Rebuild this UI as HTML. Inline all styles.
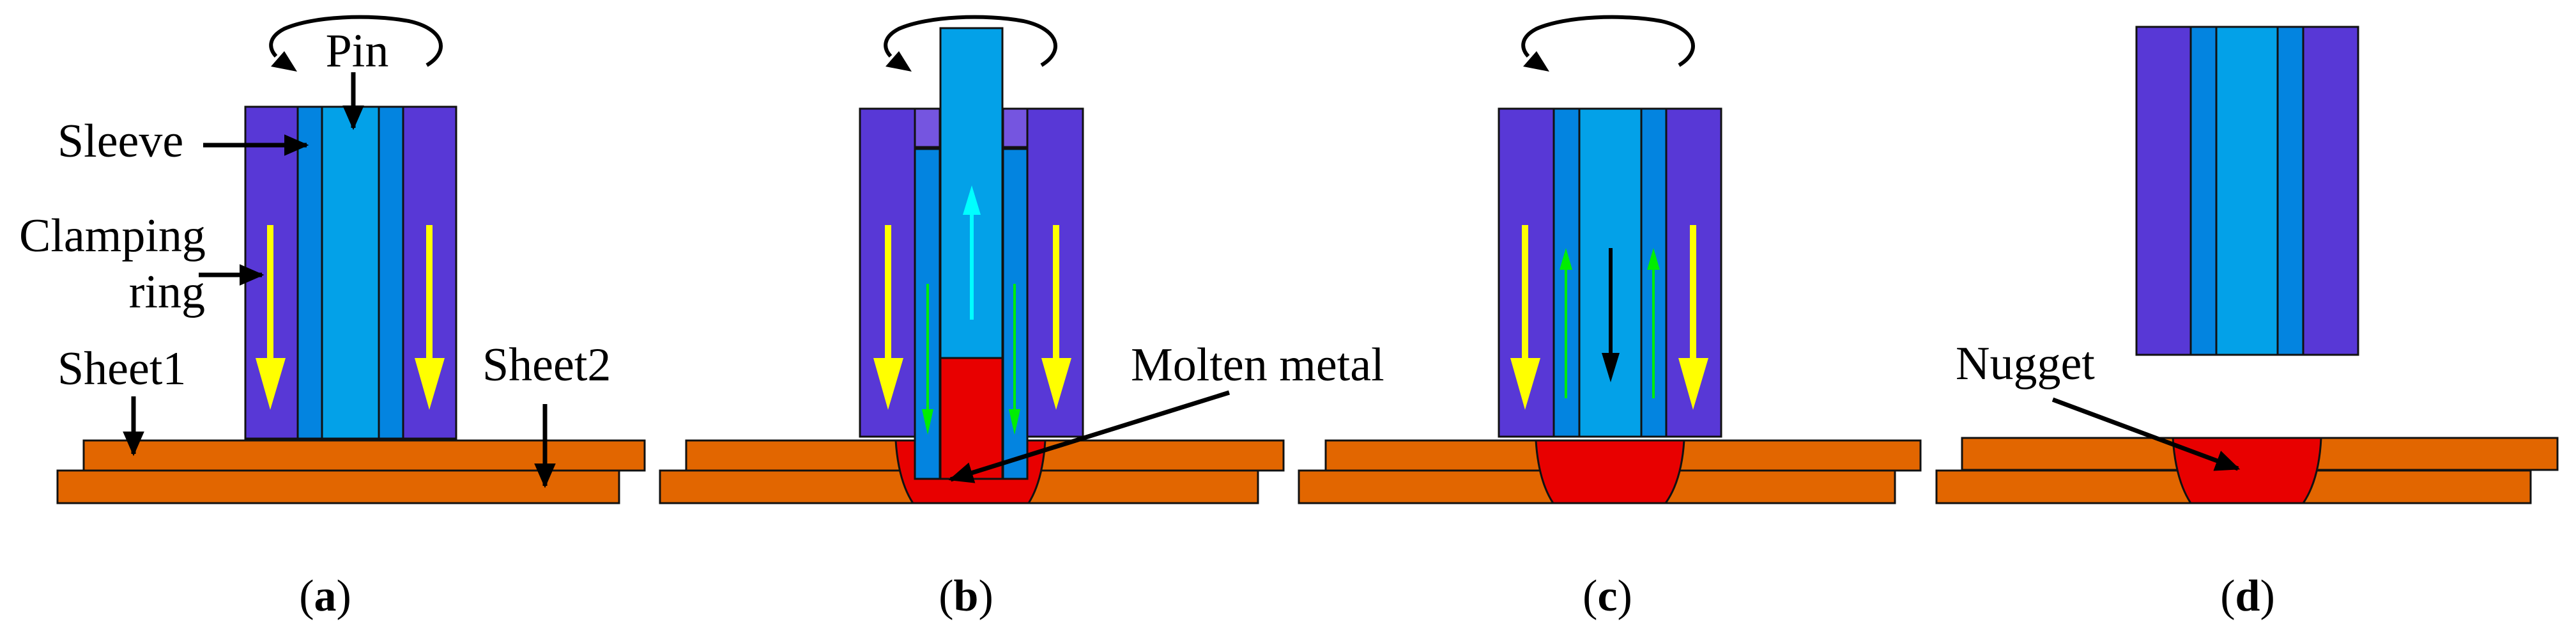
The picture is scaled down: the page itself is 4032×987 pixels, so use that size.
<!DOCTYPE html>
<html><head><meta charset="utf-8"><style>
html,body{margin:0;padding:0;background:#fff;}
svg{display:block;}
text{font-family:"Liberation Serif","DejaVu Serif",serif;fill:#000;}
</style></head><body>
<svg width="4032" height="987" viewBox="0 0 4032 987" xmlns="http://www.w3.org/2000/svg">
<defs>
<marker id="ah" markerWidth="6" markerHeight="6" refX="5" refY="3" orient="auto" markerUnits="strokeWidth"><path d="M0,0.6 L5.5,3 L0,5.4 Z" fill="#000"/></marker>
</defs>
<g stroke="#111" stroke-width="3">
<rect x="90" y="736" width="879" height="51" fill="#e26600"/>
<rect x="131" y="689" width="878" height="47" fill="#e26600"/>
<rect x="1033" y="736" width="936" height="51" fill="#e26600"/>
<rect x="1074" y="689" width="935" height="47" fill="#e26600"/>
<path d="M1402,689 L1636,689 Q1632,752 1610,787 L1429,787 Q1406,752 1402,689 Z" fill="#e80000"/>
<rect x="2033" y="736" width="933" height="51" fill="#e26600"/>
<rect x="2075" y="689" width="931" height="47" fill="#e26600"/>
<path d="M2404,689 L2636,689 Q2632,752 2607,787 L2431,787 Q2408,752 2404,689 Z" fill="#e80000"/>
<rect x="3031" y="736" width="930" height="51" fill="#e26600"/>
<rect x="3071" y="685" width="932" height="50" fill="#e26600"/>
<path d="M3401,685 L3633,685 Q3630,750 3605,787 L3429,787 Q3405,750 3401,685 Z" fill="#e80000"/>

<rect x="384" y="167" width="82" height="519" fill="#5838d6"/>
<rect x="466" y="167" width="38" height="519" fill="#0384e0"/>
<rect x="504" y="167" width="89" height="519" fill="#03a1e8"/>
<rect x="593" y="167" width="38" height="519" fill="#0384e0"/>
<rect x="631" y="167" width="83" height="519" fill="#5838d6"/>
<rect x="1346" y="170" width="86" height="513" fill="#5838d6"/>
<rect x="1608" y="170" width="87" height="513" fill="#5838d6"/>
<rect x="1432" y="170" width="39" height="60" fill="#7555e0"/>
<rect x="1570" y="170" width="38" height="60" fill="#7555e0"/>
<rect x="1432" y="233" width="39" height="516" fill="#0384e0"/>
<rect x="1570" y="233" width="38" height="516" fill="#0384e0"/>
<rect x="1472" y="560" width="97" height="189" fill="#e80000"/>
<rect x="1472" y="44" width="97" height="516" fill="#03a1e8"/>
<rect x="2346" y="170" width="86" height="513" fill="#5838d6"/>
<rect x="2432" y="170" width="40" height="513" fill="#0384e0"/>
<rect x="2472" y="170" width="97" height="513" fill="#03a1e8"/>
<rect x="2569" y="170" width="39" height="513" fill="#0384e0"/>
<rect x="2608" y="170" width="86" height="513" fill="#5838d6"/>
<rect x="3344" y="42" width="85" height="513" fill="#5838d6"/>
<rect x="3429" y="42" width="40" height="513" fill="#0384e0"/>
<rect x="3469" y="42" width="96" height="513" fill="#03a1e8"/>
<rect x="3565" y="42" width="40" height="513" fill="#0384e0"/>
<rect x="3605" y="42" width="86" height="513" fill="#5838d6"/>
</g>

<g fill="#ffff00">
<rect x="418" y="352" width="10" height="210"/><path d="M400,560 L447,560 L423,641 Z"/>
<rect x="667" y="352" width="10" height="210"/><path d="M649,560 L696,560 L672,641 Z"/>
<rect x="1385" y="352" width="10" height="210"/><path d="M1367,560 L1414,560 L1390,641 Z"/>
<rect x="1648" y="352" width="10" height="210"/><path d="M1630,560 L1677,560 L1653,641 Z"/>
<rect x="2382" y="352" width="10" height="210"/><path d="M2364,560 L2411,560 L2387,641 Z"/>
<rect x="2645" y="352" width="10" height="210"/><path d="M2627,560 L2674,560 L2650,641 Z"/>
</g>
<g fill="#00ffff"><rect x="1518" y="330" width="6" height="170"/><path d="M1507,336 L1535,336 L1521,290 Z"/></g>
<g fill="#00ee00">
<rect x="1450" y="444" width="4" height="200"/><path d="M1443,640 L1461,640 L1452,680 Z"/>
<rect x="1586" y="444" width="4" height="200"/><path d="M1579,640 L1597,640 L1588,680 Z"/>
<rect x="2449" y="420" width="4" height="203"/><path d="M2441,422 L2461,422 L2451,388 Z"/>
<rect x="2586" y="420" width="4" height="203"/><path d="M2578,422 L2598,422 L2588,388 Z"/>
</g>
<g fill="#000"><rect x="2518" y="388" width="6" height="170"/><path d="M2507,552 L2535,552 L2521,598 Z"/></g>

<g fill="none" stroke="#000" stroke-width="6">
<path d="M668,102 C705,80 695,45 640,33 C580,22 490,25 445,45 C420,58 420,75 432,88"/>
<path d="M1630,102 C1667,80 1657,45 1602,33 C1542,22 1452,25 1407,45 C1382,58 1382,75 1394,88"/>
<path d="M2628,102 C2665,80 2655,45 2600,33 C2540,22 2450,25 2405,45 C2380,58 2380,75 2392,88"/>
</g>
<g fill="#000">
<path d="M424,104 L445,80 L465,112 Z"/>
<path d="M1386,104 L1407,80 L1427,112 Z"/>
<path d="M2384,104 L2405,80 L2425,112 Z"/>
</g>

<g stroke="#000" stroke-width="7" fill="none" marker-end="url(#ah)">
<line x1="553" y1="113" x2="553" y2="200"/>
<line x1="318" y1="227" x2="480" y2="227"/>
<line x1="311" y1="430" x2="410" y2="430"/>
<line x1="209" y1="620" x2="209" y2="710"/>
<line x1="853" y1="632" x2="853" y2="760"/>
<line x1="1924" y1="614" x2="1488" y2="750"/>
<line x1="3213" y1="625" x2="3503" y2="733"/>
</g>

<g font-size="74" font-family="Liberation Serif, DejaVu Serif, serif">
<text x="559" y="104" text-anchor="middle">Pin</text>
<text x="90" y="245">Sleeve</text>
<text x="30" y="393">Clamping</text>
<text x="321" y="481" text-anchor="end">ring</text>
<text x="90" y="601">Sheet1</text>
<text x="755" y="595">Sheet2</text>
<text x="1770" y="595">Molten metal</text>
<text x="3061" y="593">Nugget</text>
</g>
<g font-size="70" font-family="Liberation Serif, DejaVu Serif, serif">
<text x="509" y="955" text-anchor="middle">(<tspan font-weight="bold">a</tspan>)</text>
<text x="1512" y="955" text-anchor="middle">(<tspan font-weight="bold">b</tspan>)</text>
<text x="2516" y="955" text-anchor="middle">(<tspan font-weight="bold">c</tspan>)</text>
<text x="3518" y="955" text-anchor="middle">(<tspan font-weight="bold">d</tspan>)</text>
</g>
</svg>
</body></html>
